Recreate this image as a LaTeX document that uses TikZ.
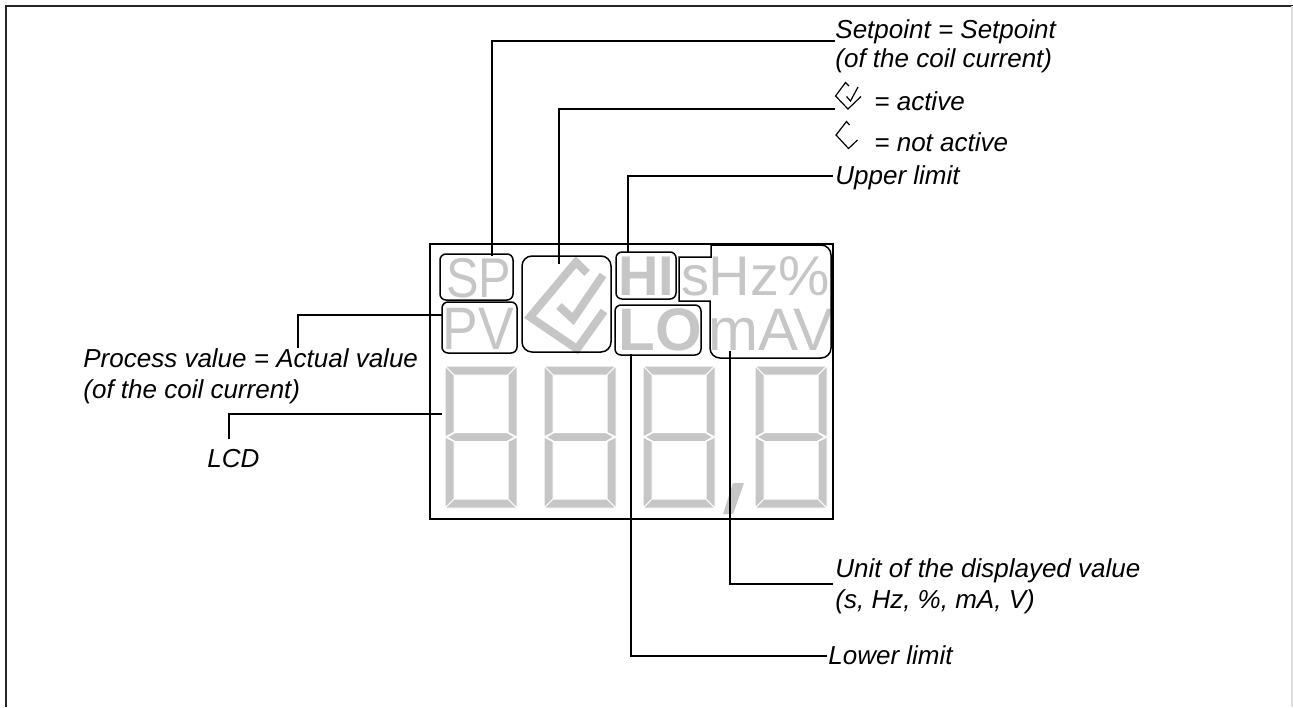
\documentclass[tikz,border=0pt]{standalone}
\usepackage{fontspec}
\setmainfont{Liberation Sans}
\usetikzlibrary{fit}
\definecolor{lcdgray}{RGB}{198,198,198}
\begin{document}
\begin{tikzpicture}[x=0.5pt,y=-0.5pt,
  conn/.style={line width=1pt, line cap=rect},
  bx/.style={draw, line width=0.75pt, rounded corners=3pt, inner sep=0pt},
  lab/.style={font=\fontsize{13pt}{15pt}\selectfont\itshape, inner sep=0pt, anchor=base west},
  gtxt/.style={text=lcdgray, inner sep=0pt, anchor=base west, text depth=0pt},
  gbig/.style={gtxt, font=\fontsize{28pt}{30pt}\selectfont, text height=20pt},
  gbig2/.style={gtxt, font=\fontsize{30pt}{32pt}\selectfont, text height=21.5pt},
  seg/.style={fill=lcdgray, draw=white, line width=0.5pt, line join=miter},
  icon/.style={line width=0.6pt, line join=miter},
  lcddigit/.pic={
    \filldraw[seg] (0,0) -- (72,0) -- (63,9) -- (9,9) -- cycle;
    \filldraw[seg] (0,142) -- (72,142) -- (63,133) -- (9,133) -- cycle;
    \filldraw[seg] (0,0) -- (9,9) -- (9,66.5) -- (0,71) -- cycle;
    \filldraw[seg] (0,71) -- (9,75.5) -- (9,133) -- (0,142) -- cycle;
    \filldraw[seg] (72,0) -- (63,9) -- (63,66.5) -- (72,71) -- cycle;
    \filldraw[seg] (72,71) -- (63,75.5) -- (63,133) -- (72,142) -- cycle;
    \filldraw[seg] (2,71) -- (10,66.5) -- (62,66.5) -- (70,71) -- (62,75.5) -- (10,75.5) -- cycle;
  }]
\useasboundingbox (0,0) rectangle (1293,707);
% outer frame
\draw[line width=0.9pt, black!85] (1293,6) -- (6,6) -- (6,707);
\draw[line width=0.6pt, black!12] (1292,6) -- (1292,707);

% digits
\foreach \dx in {445,544,643,755} { \pic at (\dx,366) {lcddigit}; }
\fill[lcdgray] (733,483) -- (744,483) -- (733,514) -- (723,514) -- cycle;

% gray indicator texts
\node[gbig] (tsp) at (446,297) {\scalebox{0.87}[1]{SP}};
\node[gbig2] (tpv) at (442,349) {\scalebox{0.89}[1]{PV}};
\node[gbig] (thi) at (618,295) {\bfseries HI};
\node[gbig] (ts) at (681,295) {s};
\node[gbig] (thz) at (708,295) {\scalebox{1.03}[1]{Hz\%}};
\node[gbig2] (tlo) at (618,350) {\bfseries LO};
\node[gbig2] (tmav) at (708,350) {mAV};

% gray check symbol
\draw[lcdgray, line width=4pt, line join=miter] (587,273) -- (576,262) -- (530,317) -- (577,349) -- (604,311);
\draw[lcdgray, line width=4pt, line join=miter] (559,306) -- (573,319) -- (603,275);

% boxes
\node[bx, fit={(440,254)(513,300)}] (sp) {};
\node[bx, fit={(442,302)(517,353)}] (pv) {};
\node[bx, rounded corners=5pt, fit={(522,256)(611,352)}] (chk) {};
\node[bx, fit={(616,252)(676,299)}] (hi) {};
\node[bx, fit={(615,305)(701,355)}] (lo) {};
\draw[line width=0.75pt] (679,301) -- (679,257) -- (711,257) -- (711,245)
   [rounded corners=5pt] -- (831,245) -- (831,358) -- (710,358) -- (710,330) [sharp corners] -- (710,301) -- cycle;

% display frame
\node[draw, line width=0.75pt, inner sep=0pt, fit={(430,244)(833,519)}] (lcd) {};

% connector end points
\coordinate (spT) at (492,255);  \coordinate (spE) at (834,41);
\coordinate (ckT) at (559,263);  \coordinate (ckE) at (834,109);
\coordinate (hiT) at (628,252);  \coordinate (hiE) at (832,176);
\coordinate (pvT) at (442,315);  \coordinate (pvE) at (298,347);
\coordinate (lcT) at (441,414);  \coordinate (lcE) at (229,438);
\coordinate (loT) at (631,355);  \coordinate (loE) at (826,656);
\coordinate (unT) at (730,352);  \coordinate (unE) at (832,584);

\draw[conn] (spT) |- (spE);
\draw[conn] (ckT) |- (ckE);
\draw[conn] (hiT) |- (hiE);
\draw[conn] (pvT) -| (pvE);
\draw[conn] (lcT) -| (lcE);
\draw[conn] (loT) |- (loE);
\draw[conn] (unT) |- (unE);

% labels
\node[lab] (l1a) at (835,38) {Setpoint = Setpoint};
\node[lab] (l1b) at (835,67) {(of the coil current)};
\node[lab] (l2) at (874,110) {= active};
\node[lab] (l3) at (874,151) {= not active};
\node[lab] (l4) at (835,184) {Upper limit};
\node[lab] (l5a) at (83,367) {Process value = Actual value};
\node[lab] (l5b) at (83,398) {(of the coil current)};
\node[lab] (l6) at (207,467) {LCD};
\node[lab] (l7a) at (835,577) {Unit of the displayed value};
\node[lab] (l7b) at (835,608) {(s, Hz, \%, mA, V)};
\node[lab] (l8) at (828,664) {Lower limit};

% legend icons
\draw[icon] (849,86) -- (845.5,82.5) -- (835.5,96) -- (848,109) -- (861,96.5);
\draw[icon] (846.5,96.5) -- (850.5,101) -- (858,87);
\draw[icon] (849.5,125) -- (846.5,121.5) -- (836,135) -- (848.5,148.5) -- (857.5,140);
\end{tikzpicture}
\end{document}
